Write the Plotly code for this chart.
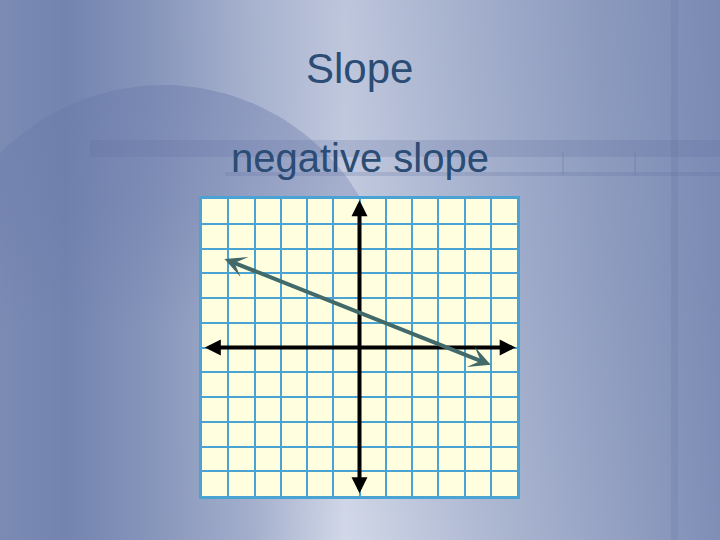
import numpy as np
import plotly.graph_objects as go

# slide text
title = "Slope"
subtitle = "negative slope"

# coordinate grid (-6..6 on both axes)
grid_min, grid_max = -6, 6
axis_x = [-5.95, 5.95]     # horizontal axis arrow ends
axis_y = [-5.95, 5.95]     # vertical axis arrow ends

# the negative-slope line
line_x = [-5.2, 5.0]
line_y = [3.6, -0.7]

# background lightness (0 = dark blue, 1 = pale), in pixel space
bg_x = [0, 65, 150, 250, 345, 480, 600, 720]
bg_y = [0, 270, 540]
bg_z = [
    [0.08, 0.0, 0.2, 0.55, 0.78, 0.49, 0.25, 0.07],
    [0.08, 0.0, 0.2, 0.52, 0.85, 0.55, 0.30, 0.08],
    [0.08, 0.0, 0.2, 0.50, 1.00, 0.64, 0.38, 0.12],
]

fig = go.Figure()

# slide background gradient
fig.add_trace(go.Heatmap(x=bg_x, y=bg_y, z=bg_z, zmin=0, zmax=1, zsmooth='best',
                         colorscale=[[0, '#7384af'], [1, '#d2d8e8']],
                         showscale=False, hoverinfo='skip', xaxis='x', yaxis='y'))

# big darker disc on the left of the slide, fading out downwards
t = np.linspace(0, 2 * np.pi, 200)
fig.add_trace(go.Scatter(x=163 + 229 * np.cos(t), y=314 + 229 * np.sin(t),
                         mode='lines', line=dict(width=0), fill='toself',
                         fillgradient=dict(type='vertical', start=330, stop=85,
                                           colorscale=[[0, 'rgba(105,120,170,0)'],
                                                       [0.5, 'rgba(105,120,170,0.3)'],
                                                       [1, 'rgba(105,120,170,0.42)']]),
                         hoverinfo='skip', showlegend=False, xaxis='x', yaxis='y'))

# dummy trace so the grid subplot exists
fig.add_trace(go.Scatter(x=[grid_min, grid_max], y=[grid_min, grid_max], mode='markers',
                         marker=dict(opacity=0), hoverinfo='skip', showlegend=False,
                         xaxis='x2', yaxis='y2'))

band = 'rgba(95,110,160,0.22)'
shapes = [
    dict(type='rect', xref='x', yref='y', x0=90, x1=720, y0=140, y1=157,
         fillcolor=band, line_width=0, layer='above'),
    dict(type='rect', xref='x', yref='y', x0=225, x1=720, y0=172, y1=176,
         fillcolor=band, line_width=0, layer='above'),
    dict(type='rect', xref='x', yref='y', x0=671, x1=678, y0=0, y1=540,
         fillcolor='rgba(95,110,160,0.18)', line_width=0, layer='above'),
    dict(type='line', xref='x', yref='y', x0=563, x1=563, y0=152, y1=175,
         line=dict(color=band, width=2), layer='above'),
    dict(type='line', xref='x', yref='y', x0=635, x1=635, y0=152, y1=175,
         line=dict(color=band, width=2), layer='above'),
    # cream graph paper
    dict(type='rect', xref='x2', yref='y2', x0=grid_min, x1=grid_max, y0=grid_min, y1=grid_max,
         fillcolor='#ffffe0', line_width=0, layer='below'),
]

annotations = [
    dict(text=title, xref='x', yref='y', x=359, y=68, showarrow=False,
         font=dict(family='Liberation Sans, Arial', size=42, color='#2b4c74')),
    dict(text=subtitle, xref='x', yref='y', x=360, y=158, showarrow=False,
         font=dict(family='Liberation Sans, Arial', size=40, color='#2b4c74')),
    # x and y axes
    dict(xref='x2', yref='y2', axref='x2', ayref='y2', x=axis_x[1], y=0, ax=axis_x[0], ay=0,
         text='', showarrow=True, arrowhead=2, startarrowhead=2, arrowside='end+start',
         arrowsize=0.8, startarrowsize=0.8, arrowwidth=4, arrowcolor='black'),
    dict(xref='x2', yref='y2', axref='x2', ayref='y2', x=0, y=axis_y[1], ax=0, ay=axis_y[0],
         text='', showarrow=True, arrowhead=2, startarrowhead=2, arrowside='end+start',
         arrowsize=0.8, startarrowsize=0.8, arrowwidth=4, arrowcolor='black'),
    # the line with negative slope
    dict(xref='x2', yref='y2', axref='x2', ayref='y2', x=line_x[1], y=line_y[1],
         ax=line_x[0], ay=line_y[0], text='', showarrow=True, arrowhead=3, startarrowhead=3,
         arrowside='end+start', arrowsize=0.9, startarrowsize=0.9, arrowwidth=4,
         arrowcolor='#426a6a'),
]

fig.update_layout(
    width=720, height=540,
    margin=dict(l=0, r=0, t=0, b=0),
    paper_bgcolor='#8f9cc2',
    plot_bgcolor='rgba(0,0,0,0)',
    showlegend=False,
    xaxis=dict(range=[0, 720], domain=[0, 1], visible=False, fixedrange=True),
    yaxis=dict(range=[540, 0], domain=[0, 1], visible=False, fixedrange=True),
    xaxis2=dict(range=[grid_min, grid_max], domain=[202 / 720, 517 / 720], anchor='y2',
                dtick=1, showgrid=True, gridcolor='#4aa3d3', gridwidth=2, zeroline=False,
                showline=True, mirror=True, linecolor='#4aa3d3', linewidth=3,
                showticklabels=False, ticks='', fixedrange=True),
    yaxis2=dict(range=[grid_min, grid_max], domain=[44 / 540, 341 / 540], anchor='x2',
                dtick=1, showgrid=True, gridcolor='#4aa3d3', gridwidth=2, zeroline=False,
                showline=True, mirror=True, linecolor='#4aa3d3', linewidth=3,
                showticklabels=False, ticks='', fixedrange=True),
    shapes=shapes,
    annotations=annotations,
)

# drop the page margin so the slide fills the window
fig.write_html("out.html", config={'displayModeBar': False},
               post_script="document.body.style.margin='0';")
